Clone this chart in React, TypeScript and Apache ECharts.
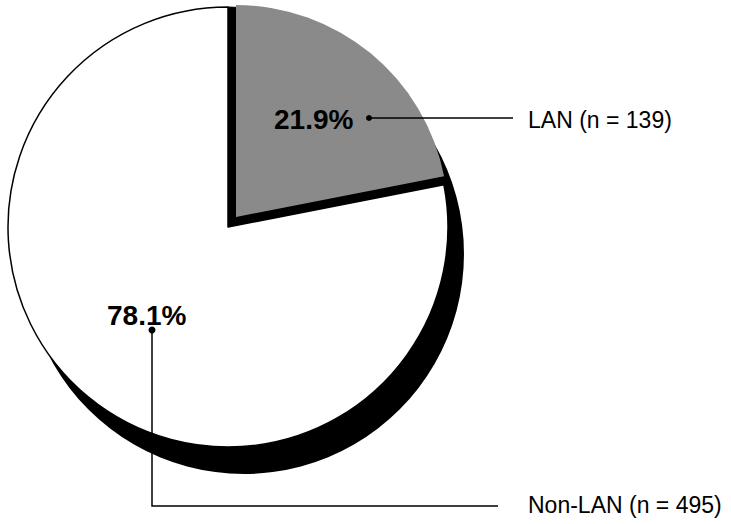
import React, { useEffect, useRef } from "react";
import * as echarts from "echarts";

const categories = ["LAN", "Non-LAN"];
const counts = [139, 495];
const sliceColors = ["#8a8a8a", "#ffffff"];

export default function App() {
  const ref = useRef<HTMLDivElement>(null);
  useEffect(() => {
    if (!ref.current) return;
    const chart = echarts.init(ref.current, undefined, { renderer: "svg" });
    const total = counts.reduce((a, b) => a + b, 0);
    const pct = counts.map((c) => ((c / total) * 100).toFixed(1) + "%");
    const labelFont = "'Liberation Sans', Arial, Helvetica, sans-serif";

    const option: any = {
      animation: false,
      backgroundColor: "#ffffff",
      series: [
        {
          type: "pie",
          silent: true,
          center: [244, 254],
          radius: 220,
          startAngle: 90,
          label: { show: false },
          labelLine: { show: false },
          data: [{ name: "shadow", value: total, itemStyle: { color: "#000" } }],
          z: 1,
        },
        {
          type: "pie",
          silent: true,
          center: [228, 227],
          radius: 220,
          startAngle: 90,
          label: { show: false },
          labelLine: { show: false },
          data: categories.map((n, i) => ({
            name: n,
            value: counts[i],
            itemStyle:
              i === 0
                ? { color: "#000", borderColor: "#000", borderWidth: 1 }
                : { color: sliceColors[1], borderColor: "#000", borderWidth: 1.5 },
          })),
          z: 2,
        },
        {
          type: "pie",
          silent: true,
          center: [236, 217],
          radius: 212,
          startAngle: 90,
          label: { show: false },
          labelLine: { show: false },
          data: categories.map((n, i) => ({
            name: n,
            value: counts[i],
            itemStyle:
              i === 0
                ? { color: sliceColors[0] }
                : { color: "rgba(0,0,0,0)", borderWidth: 0 },
          })),
          z: 3,
        },
      ],
      graphic: [
        {
          type: "text",
          z: 10,
          x: 274,
          y: 119,
          style: {
            text: pct[0],
            font: `bold 28px ${labelFont}`,
            fill: "#000",
            verticalAlign: "middle",
          },
        },
        {
          type: "circle",
          z: 10,
          shape: { cx: 369, cy: 118, r: 3 },
          style: { fill: "#000" },
        },
        {
          type: "line",
          z: 10,
          shape: { x1: 369, y1: 118, x2: 513, y2: 118 },
          style: { stroke: "#000", lineWidth: 1.5 },
        },
        {
          type: "text",
          z: 10,
          x: 528,
          y: 120,
          style: {
            text: `${categories[0]} (n = ${counts[0]})`,
            font: `23px ${labelFont}`,
            fill: "#000",
            verticalAlign: "middle",
          },
        },
        {
          type: "text",
          z: 10,
          x: 107,
          y: 315,
          style: {
            text: pct[1],
            font: `bold 28px ${labelFont}`,
            fill: "#000",
            verticalAlign: "middle",
          },
        },
        {
          type: "circle",
          z: 10,
          shape: { cx: 152, cy: 330, r: 3.5 },
          style: { fill: "#000" },
        },
        {
          type: "polyline",
          z: 10,
          shape: { points: [[152, 330], [152, 506], [498, 506]] },
          style: { stroke: "#000", lineWidth: 1.5, fill: "none" },
        },
        {
          type: "text",
          z: 10,
          x: 528,
          y: 505,
          style: {
            text: `${categories[1]} (n = ${counts[1]})`,
            font: `23px ${labelFont}`,
            fill: "#000",
            verticalAlign: "middle",
          },
        },
      ],
    };
    chart.setOption(option);
    return () => chart.dispose();
  }, []);
  return (
    <div
      ref={ref}
      style={{ position: "fixed", left: 0, top: 0, width: 731, height: 524 }}
    />
  );
}
